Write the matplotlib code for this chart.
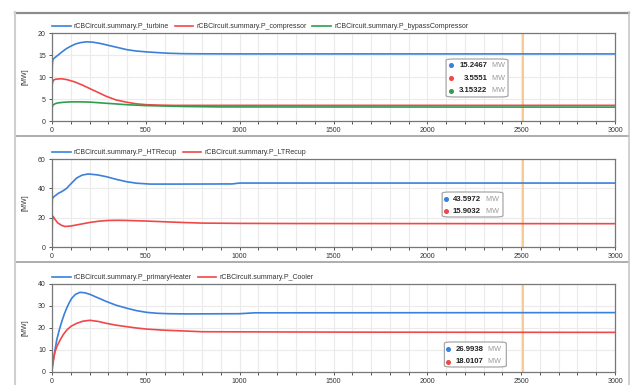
import matplotlib.pyplot as plt
from matplotlib.lines import Line2D
from matplotlib.patches import FancyBboxPatch

plt.rcParams['font.family'] = ['Liberation Sans', 'DejaVu Sans']

# ---- data (time in s, power in MW) ----
t_turb = [0, 2, 5, 15, 30, 50, 75, 100, 125, 150, 185, 220, 260, 300, 350, 400, 450, 505,
          560, 620, 700, 800, 1000, 3000]
p_turb = [10, 13, 14, 14.4, 14.9, 15.6, 16.4, 17.0, 17.5, 17.8, 18.0, 17.9, 17.6, 17.2,
          16.7, 16.2, 15.9, 15.7, 15.55, 15.4, 15.3, 15.27, 15.25, 15.2467]
t_comp = [0, 2, 8, 20, 50, 80, 120, 160, 200, 250, 290, 340, 400, 450, 505, 580, 650,
          1000, 3000]
p_comp = [7.5, 8.6, 9.3, 9.5, 9.6, 9.4, 8.9, 8.2, 7.4, 6.4, 5.6, 4.8, 4.25, 3.9, 3.7,
          3.6, 3.55, 3.555, 3.5551]
t_byp = [0, 5, 15, 30, 60, 100, 150, 200, 250, 300, 350, 400, 450, 500, 600, 700, 900,
         3000]
p_byp = [3.0, 3.6, 3.9, 4.1, 4.25, 4.35, 4.35, 4.3, 4.15, 4.0, 3.85, 3.7, 3.6, 3.5, 3.4,
         3.3, 3.2, 3.15322]

t_ht = [0, 2, 10, 34, 55, 78, 100, 131, 160, 193, 240, 291, 340, 398, 450, 522, 700,
        960, 1000, 3000]
p_ht = [26, 33, 34.3, 36.6, 38, 40, 43, 47, 49, 49.8, 49.2, 47.9, 46.2, 44.5, 43.5,
        42.9, 42.9, 43.0, 43.6, 43.5972]
t_lt = [0, 2, 5, 15, 30, 50, 69, 100, 150, 200, 250, 300, 350, 400, 500, 600, 700, 800,
        1000, 1300, 3000]
p_lt = [5, 18, 21, 19, 16.5, 14.8, 14.0, 14.3, 15.5, 16.7, 17.6, 18.1, 18.2, 18.1,
        17.7, 17.2, 16.7, 16.3, 16.1, 16.0, 15.9032]

t_heat = [0, 0.5, 2, 12, 25, 40, 52, 65, 78, 92, 105, 125, 149, 175, 202, 245, 291, 340,
          398, 450, 505, 560, 620, 717, 1000, 1080, 3000]
p_heat = [26, 1.7, 3, 8, 14.5, 19.5, 22.9, 26.2, 29, 31.5, 33.5, 35.3, 36.2, 36.0, 35.3,
          33.7, 32, 30.4, 29, 27.9, 27.1, 26.7, 26.5, 26.4, 26.5, 26.9, 26.9938]
t_cool = [0, 0.5, 2, 8, 16, 28, 43, 60, 78, 100, 131, 165, 202, 245, 291, 340, 398, 450,
          505, 600, 717, 800, 1670, 3000]
p_cool = [14, 0.5, 2, 5.5, 9.2, 12, 14.5, 17, 19, 20.7, 22.1, 23.1, 23.5, 23.0, 22.1,
          21.3, 20.6, 20.0, 19.5, 19.0, 18.6, 18.3, 18.1, 18.0107]

names1 = ["rCBCircuit.summary.P_turbine", "rCBCircuit.summary.P_compressor",
          "rCBCircuit.summary.P_bypassCompressor"]
names2 = ["rCBCircuit.summary.P_HTRecup", "rCBCircuit.summary.P_LTRecup"]
names3 = ["rCBCircuit.summary.P_primaryHeater", "rCBCircuit.summary.P_Cooler"]
vals1 = ["15.2467", "3.5551", "3.15322"]
vals2 = ["43.5972", "15.9032"]
vals3 = ["26.9938", "18.0107"]
yticks1 = [0, 5, 10, 15, 20]
yticks2 = [0, 20, 40, 60]
yticks3 = [0, 10, 20, 30, 40]
cursor_t = 2510

BLUE = '#3a80dc'
RED = '#f04848'
GREEN = '#2e9e4e'

W, H = 633, 385
fig = plt.figure(figsize=(W / 100, H / 100), dpi=100)


def fx(px):
    return px / W


def fy(py):
    return 1 - py / H


def make_panel(top_px, series, names, yticks, vals, box):
    ax = fig.add_axes([fx(52), fy(top_px + 88), fx(615) - fx(52), 88 / H])
    colors = [BLUE, RED, GREEN]
    for (t, p), c, n in zip(series, colors, names):
        ax.plot(t, p, color=c, lw=1.2, label=n)
    ax.axvline(cursor_t, color='#f9c58a', lw=1.3, zorder=1)
    ax.set_xlim(0, 3000)
    ax.set_ylim(yticks[0], yticks[-1])
    ax.set_yticks(yticks)
    ax.set_xticks(range(0, 3001, 500))
    ax.set_xticks(range(0, 3001, 100), minor=True)
    ax.grid(True, which='minor', axis='x', color='#ebebeb', lw=0.8)
    ax.grid(True, which='major', axis='both', color='#ebebeb', lw=0.8)
    ax.set_axisbelow(True)
    ax.tick_params(labelsize=5, length=2.5, width=0.7, pad=2, colors='#555555',
                   labelcolor='#333333')
    ax.tick_params(which='minor', length=2.5, width=0.7, colors='#555555')
    for s in ax.spines.values():
        s.set_color('#777777')
        s.set_linewidth(0.9)
    ax.set_ylabel('[MW]', fontsize=5, color='#333333', labelpad=7)
    ax.legend(loc='lower left', bbox_to_anchor=(0, 1.03), ncol=len(names),
              frameon=False, fontsize=5, handlelength=2.7, handletextpad=0.45,
              columnspacing=0.8, borderpad=0, borderaxespad=0,
              labelcolor='#333333')

    # value box
    x0, x1, y0, y1, rows, xdot, xval = box
    ax.add_patch(FancyBboxPatch((x0, y1), x1 - x0, y0 - y1,
                                boxstyle='round,pad=0,rounding_size=0.015',
                                transform=ax.transAxes, fc='white',
                                ec='#a8a8a8', lw=0.9, zorder=5))
    for v, c, ry in zip(vals, colors, rows):
        ax.plot([xdot], [ry], 'o', ms=2.6, color=c, transform=ax.transAxes,
                zorder=6, clip_on=False)
        ax.text(xval, ry, v, fontsize=5.6, fontweight='bold', color='#222222',
                ha='right', va='center', transform=ax.transAxes, zorder=6)
        ax.text(xval + 0.005, ry, ' MW', fontsize=5.2, color='#999999',
                ha='left', va='center', transform=ax.transAxes, zorder=6)
    return ax


make_panel(33, [(t_turb, p_turb), (t_comp, p_comp), (t_byp, p_byp)], names1,
           yticks1, vals1,
           (0.700, 0.810, 0.705, 0.273, [0.631, 0.483, 0.341], 0.709, 0.773))
make_panel(159, [(t_ht, p_ht), (t_lt, p_lt)], names2, yticks2, vals2,
           (0.693, 0.801, 0.625, 0.341, [0.545, 0.409], 0.700, 0.762))
make_panel(284, [(t_heat, p_heat), (t_cool, p_cool)], names3, yticks3, vals3,
           (0.697, 0.807, 0.341, 0.057, [0.258, 0.117], 0.704, 0.766))

# window frame lines
frame = [((15, 629), (12.5, 12.5), '#8c8c8c', 1.6),
         ((15, 629), (136, 136), '#a0a0a0', 1.2),
         ((15, 629), (262, 262), '#a0a0a0', 1.2),
         ((15, 15), (12, 385), '#cfcfcf', 1.5),
         ((629, 629), (12, 385), '#c8c8c8', 1.2)]
for xs, ys, c, lw in frame:
    fig.add_artist(Line2D([fx(xs[0]), fx(xs[1])], [fy(ys[0]), fy(ys[1])],
                          color=c, lw=lw, transform=fig.transFigure))

fig.savefig('out.png', dpi=100)
